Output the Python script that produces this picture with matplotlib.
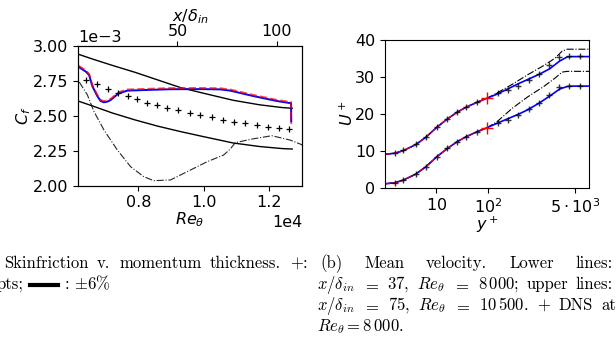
import numpy as np
import matplotlib
matplotlib.use("Agg")
import matplotlib.pyplot as plt
from matplotlib.ticker import NullLocator

# ==========================================
# DATA
# ==========================================
# (a) skin friction v. Re_theta
re_corr = [6400, 6750, 7080, 7380, 7680, 7970, 8280, 8580, 8880, 9220,
           9570, 9900, 10240, 10580, 10920, 11270, 11620, 11970, 12290, 12600]
cf_corr = [2.755, 2.724, 2.690, 2.665, 2.640, 2.617, 2.593, 2.576, 2.557, 2.538,
           2.521, 2.505, 2.489, 2.469, 2.457, 2.446, 2.431, 2.417, 2.410, 2.405]

re_band = [6160, 6600, 7200, 7900, 8600, 9300, 10000, 10900, 11700, 12400, 12700]
cf_band_hi = [2.940, 2.905, 2.860, 2.810, 2.755, 2.700, 2.660, 2.610, 2.578, 2.558, 2.553]
cf_band_lo = [2.605, 2.570, 2.520, 2.470, 2.425, 2.386, 2.350, 2.305, 2.280, 2.265, 2.262]

re_les = [6170, 6300, 6400, 6500, 6600, 6750, 6850, 6950, 7050, 7157, 7300, 7409,
          7665, 8274, 8983, 9896, 10500, 10809, 11519, 12231, 12636, 12665, 12670]
cf_les = [2.850, 2.830, 2.815, 2.790, 2.710, 2.640, 2.605, 2.596, 2.600, 2.612, 2.640, 2.660,
          2.679, 2.684, 2.689, 2.690, 2.688, 2.679, 2.640, 2.605, 2.590, 2.590, 2.460]
cf_les2 = [2.858, 2.838, 2.823, 2.798, 2.718, 2.648, 2.613, 2.604, 2.608, 2.620, 2.648, 2.668,
           2.687, 2.692, 2.697, 2.698, 2.696, 2.687, 2.648, 2.613, 2.598, 2.598, 2.440]

re_ref = [6200, 6448, 6649, 6953, 7361, 7766, 8170, 8475, 8983, 9492, 10100,
          10606, 10800, 10962, 11419, 12079, 12636, 12940, 13100]
cf_ref = [2.740, 2.648, 2.529, 2.398, 2.255, 2.136, 2.064, 2.036, 2.041, 2.100, 2.171,
          2.219, 2.260, 2.307, 2.331, 2.357, 2.326, 2.298, 2.280]

# (b) mean velocity profiles
yp_in = [1.0, 1.56, 2.27, 3.93, 6.2, 10.3, 16.4, 25.2, 38.2, 61.4, 96.0]
up_in_lo = [1.0, 1.3, 2.0, 3.6, 5.6, 8.4, 10.6, 12.4, 13.8, 15.1, 16.2]
up_in_hi = [9.0, 9.3, 10.0, 11.6, 13.6, 16.4, 18.6, 20.4, 21.8, 23.1, 24.2]

yp_les = [1.0, 1.56, 2.27, 3.93, 6.2, 10.3, 16.4, 25.2, 38.2, 61.4, 96.0,
          150, 250, 400, 600, 1000, 1600, 2500, 3500, 4500, 9300]
up_les_lo = [1.0, 1.3, 2.0, 3.6, 5.6, 8.4, 10.6, 12.4, 13.8, 15.1, 16.2,
             17.4, 18.7, 19.9, 21.1, 22.9, 24.8, 26.7, 27.4, 27.5, 27.5]
up_les_hi = [9.0, 9.3, 10.0, 11.6, 13.6, 16.4, 18.6, 20.4, 21.8, 23.1, 24.2,
             25.3, 26.8, 28.2, 29.3, 30.7, 32.2, 34.3, 35.4, 35.5, 35.5]

yp_rans = [1.0, 1.56, 2.27, 3.93, 6.2, 10.3, 16.4, 25.2, 38.2, 61.4, 96.0,
           150, 300, 600, 1200, 2000, 2800, 3500, 9300]
up_rans_lo = [1.0, 1.3, 2.0, 3.6, 5.6, 8.4, 10.6, 12.4, 13.8, 15.1, 16.2,
              17.8, 21.5, 24.6, 27.3, 29.6, 31.3, 31.5, 31.5]
up_rans_hi = [9.0, 9.3, 10.0, 11.6, 13.6, 16.4, 18.6, 20.4, 21.8, 23.1, 24.2,
              25.6, 28.0, 30.6, 33.0, 35.0, 37.0, 37.5, 37.5]

yp_dns = [1.56, 2.27, 3.93, 6.2, 10.3, 16.4, 25.2, 38.2, 61.4, 157,
          245, 395, 627, 1008, 1577, 2460, 3850, 6200]
up_dns_lo = [1.22, 1.96, 3.59, 5.57, 8.3, 10.6, 12.4, 13.7, 15.1, 17.4,
             18.4, 19.6, 21.2, 23.0, 25.1, 27.3, 27.5, 27.5]
up_dns_hi = [9.4, 10.1, 11.7, 13.7, 16.4, 18.6, 20.5, 21.7, 23.2, 25.5,
             26.4, 27.5, 29.1, 30.9, 33.2, 35.5, 35.6, 35.6]

# ==========================================
# PLOTTING
# ==========================================
plt.rcParams['font.size'] = 11.5
plt.rcParams['mathtext.fontset'] = 'dejavusans'

fig = plt.figure(figsize=(6.16, 3.61), dpi=100)

# --- (a) skin friction
ax1 = fig.add_axes([0.1266, 0.4856, 0.3637, 0.3878])
ax1.plot(re_band, np.array(cf_band_hi) * 1e-3, color='black', lw=1.0)
ax1.plot(re_band, np.array(cf_band_lo) * 1e-3, color='black', lw=1.0)
ax1.plot(re_ref, np.array(cf_ref) * 1e-3, color='black', lw=0.8, ls='-.', alpha=0.85)
ax1.plot(re_les, np.array(cf_les) * 1e-3, color='blue', lw=1.4)
ax1.plot(re_les, np.array(cf_les2) * 1e-3, color='red', lw=1.4, ls='--', alpha=0.7)
ax1.plot(re_corr, np.array(cf_corr) * 1e-3, 'k+', ms=4, mew=0.9)

ax1.set_xlim(6160, 13000)
ax1.set_ylim(2.0e-3, 3.0e-3)
ax1.set_xticks([8000, 10000, 12000])
ax1.set_yticks([2.0e-3, 2.25e-3, 2.5e-3, 2.75e-3, 3.0e-3])
ax1.ticklabel_format(axis='both', style='sci', scilimits=(0, 0))
ax1.set_xlabel(r'$Re_\theta$', labelpad=0)
ax1.set_ylabel(r'$C_f$', labelpad=0)

ax1t = ax1.twiny()
ax1t.set_xlim(0, 112.6)
ax1t.set_xticks([50, 100])
ax1t.tick_params(axis='x', pad=1.5)
ax1t.set_xlabel(r'$x/\delta_{in}$', labelpad=2)

# --- (b) mean velocity
ax2 = fig.add_axes([0.625, 0.4806, 0.3312, 0.4086])
ax2.plot(yp_rans, up_rans_lo, color='black', lw=0.8, ls='-.')
ax2.plot(yp_rans, up_rans_hi, color='black', lw=0.8, ls='-.')
ax2.plot(yp_les, up_les_lo, color='blue', lw=1.2)
ax2.plot(yp_les, up_les_hi, color='blue', lw=1.2)
ax2.plot(yp_in, up_in_lo, color='red', lw=1.0, ls='--', alpha=0.8)
ax2.plot(yp_in, up_in_hi, color='red', lw=1.0, ls='--', alpha=0.8)
ax2.plot(yp_in[-1:], up_in_lo[-1:], 'r+', ms=9, mew=1.0)
ax2.plot(yp_in[-1:], up_in_hi[-1:], 'r+', ms=9, mew=1.0)
ax2.plot(yp_dns, up_dns_lo, 'k+', ms=5, mew=1.0, alpha=0.8)
ax2.plot(yp_dns, up_dns_hi, 'k+', ms=5, mew=1.0, alpha=0.8)

ax2.set_xscale('log')
ax2.set_xlim(1, 9300)
ax2.set_ylim(0, 40)
ax2.set_xticks([10, 100, 5000])
ax2.set_xticklabels([r'$10$', r'$10^2$', r'$5\cdot10^3$'])
ax2.xaxis.set_minor_locator(NullLocator())
ax2.set_yticks([0, 10, 20, 30, 40])
ax2.set_xlabel(r'$y^+$', labelpad=-1)
ax2.set_ylabel(r'$U^+$', labelpad=-1)

# ==========================================
# CAPTION TEXT (justified lines, pixel positions)
# ==========================================
W, H = 616.0, 361.0
cap = dict(fontsize=12, family='cmr10', math_fontfamily='cm', va='baseline', ha='left')
renderer = fig.canvas.get_renderer()

def put(x, y, s):
    return fig.text(x / W, 1 - y / H, s, **cap)

def justify(pieces, x0, x1, y):
    texts = [put(0, y, p) for p in pieces]
    widths = [t.get_window_extent(renderer).width for t in texts]
    gap = (x1 - x0 - sum(widths)) / (len(pieces) - 1)
    x = x0
    for t, w in zip(texts, widths):
        t.set_position((x / W, 1 - y / H))
        x += w + gap

y1, y2, y3, y4 = 268, 289, 310, 331   # baselines

justify(['Skinfriction', 'v.', 'momentum', 'thickness.', '$+$:'], 4, 308, y1)
put(-3, y2, 'pts;')
fig.add_artist(plt.Line2D([30 / W, 58 / W], [1 - (y2 - 4) / H] * 2, color='black', lw=3))
put(64, y2, r': $\pm$6%')

justify(['(b)', 'Mean', 'velocity.', 'Lower', 'lines:'], 320, 613, y1)
justify([r'$x/\delta_{in}$', '$=$', '$37$,', r'$Re_\theta$', '$=$', r'$8\,000$;', 'upper', 'lines:'],
        317, 613, y2)
justify([r'$x/\delta_{in}$', '$=$', '$75$,', r'$Re_\theta$', '$=$', r'$10\,500$.', '$+$', 'DNS', 'at'],
        317, 616, y3)
put(317, y4, r'$Re_\theta = 8\,000$.')

fig.savefig('out.png', dpi=100)
